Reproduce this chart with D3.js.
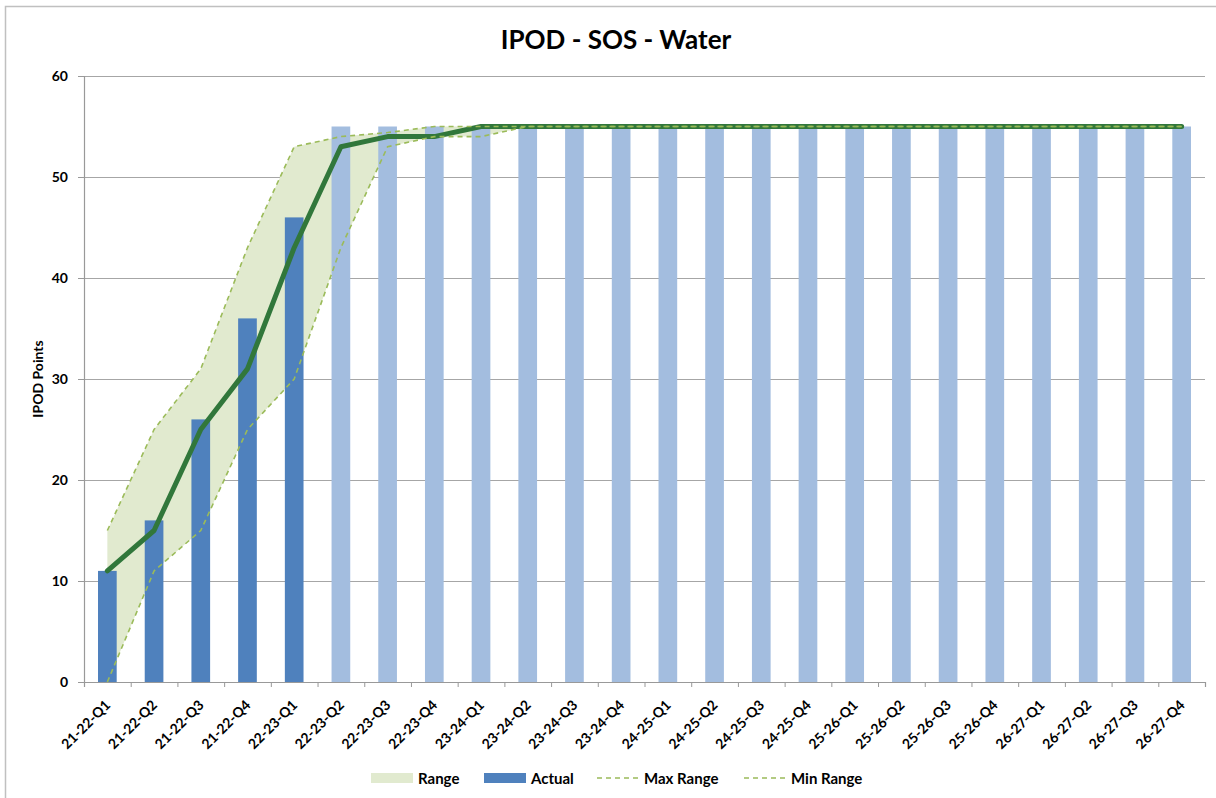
<!DOCTYPE html>
<html>
<head>
<meta charset="utf-8">
<script src="https://cdn.jsdelivr.net/npm/d3@7/dist/d3.min.js"></script>
<style>
  html, body { margin: 0; padding: 0; background: #fff; }
  svg { display: block; }
  text { font-family: Lato, "Liberation Sans", sans-serif; font-weight: bold; fill: #000; }
</style>
</head>
<body>
<svg id="chart" width="1216" height="798"></svg>
<script>
const quarters = [
  "21-22-Q1","21-22-Q2","21-22-Q3","21-22-Q4",
  "22-23-Q1","22-23-Q2","22-23-Q3","22-23-Q4",
  "23-24-Q1","23-24-Q2","23-24-Q3","23-24-Q4",
  "24-25-Q1","24-25-Q2","24-25-Q3","24-25-Q4",
  "25-26-Q1","25-26-Q2","25-26-Q3","25-26-Q4",
  "26-27-Q1","26-27-Q2","26-27-Q3","26-27-Q4"
];
const actual   = [11,16,26,36,46,null,null,null,null,null,null,null,null,null,null,null,null,null,null,null,null,null,null,null];
const planned  = [null,null,null,null,null,55,55,55,55,55,55,55,55,55,55,55,55,55,55,55,55,55,55,55];
const trajectory = [11,15,25,31,43,53,54,54,55,55,55,55,55,55,55,55,55,55,55,55,55,55,55,55];
const maxRange = [15,25,31,43,53,54,54.4,55,55,55,55,55,55,55,55,55,55,55,55,55,55,55,55,55];
const minRange = [0,11,15,25,30,43,53,54,54,55,55,55,55,55,55,55,55,55,55,55,55,55,55,55];
const yTicks = [0,10,20,30,40,50,60];
const title = "IPOD - SOS - Water";
const yTitle = "IPOD Points";
const legendItems = ["Range","Actual","Max Range","Min Range"];

const svg = d3.select("#chart");
const pLeft = 84, pRight = 1205, pTop = 76, pBottom = 682;

// frame
svg.append("rect").attr("x",5.5).attr("y",6.5).attr("width",1300).attr("height",1000)
  .attr("fill","none").attr("stroke","#c0c0c0").attr("stroke-width",1.5);

const x = d3.scaleBand().domain(quarters).range([pLeft,pRight]).paddingInner(0.6).paddingOuter(0.3);
const xEdge = d3.scaleLinear().domain([0,quarters.length]).range([pLeft,pRight]);
const y = d3.scaleLinear().domain([0,60]).range([pBottom,pTop]);
const cx = q => x(q) + x.bandwidth()/2;

// gridlines
svg.append("g").attr("transform",`translate(${pLeft},0)`)
  .call(d3.axisLeft(y).tickValues(yTicks.slice(1)).tickSize(-(pRight-pLeft)).tickFormat(""))
  .call(g => g.select(".domain").remove())
  .call(g => g.selectAll("line").attr("stroke","#a6a6a6").attr("stroke-width",1));

// range area
const area = d3.area()
  .x((d,i) => cx(quarters[i]))
  .y0((d,i) => y(minRange[i]))
  .y1((d,i) => y(maxRange[i]));
svg.append("path").datum(quarters).attr("d",area).attr("fill","#e1eacf");

// bars
svg.append("g").selectAll("rect").data(quarters.map((q,i)=>({q,v:planned[i]})).filter(d=>d.v!=null))
  .join("rect").attr("x",d=>x(d.q)).attr("width",x.bandwidth())
  .attr("y",d=>y(d.v)).attr("height",d=>y(0)-y(d.v)).attr("fill","#a3bddf");
svg.append("g").selectAll("rect").data(quarters.map((q,i)=>({q,v:actual[i]})).filter(d=>d.v!=null))
  .join("rect").attr("x",d=>x(d.q)).attr("width",x.bandwidth())
  .attr("y",d=>y(d.v)).attr("height",d=>y(0)-y(d.v)).attr("fill","#4f81bd");

// trajectory line
const line = arr => d3.line().x((d,i)=>cx(quarters[i])).y(d=>y(d))(arr);
svg.append("path").attr("d",line(trajectory)).attr("fill","none")
  .attr("stroke","#31773b").attr("stroke-width",5).attr("stroke-linejoin","round").attr("stroke-linecap","round");
[maxRange,minRange].forEach(arr=>{
  svg.append("path").attr("d",line(arr)).attr("fill","none")
    .attr("stroke","#9bbb59").attr("stroke-width",1.6).attr("stroke-dasharray","5,4");
});

// y axis
svg.append("g").attr("transform",`translate(${pLeft},0)`)
  .call(d3.axisLeft(y).tickValues(yTicks).tickSize(6).tickPadding(10))
  .call(g => g.select(".domain").attr("stroke","#999").attr("stroke-width",1.2))
  .call(g => g.selectAll("line").attr("stroke","#999"))
  .call(g => g.selectAll("text").attr("font-size",14).attr("font-family","Lato").attr("font-weight","bold"));

// x axis: boundary ticks
svg.append("g").attr("transform",`translate(0,${pBottom})`)
  .call(d3.axisBottom(xEdge).tickValues(d3.range(quarters.length+1)).tickSize(5).tickFormat(""))
  .call(g => g.select(".domain").attr("stroke","#999").attr("stroke-width",1.2))
  .call(g => g.selectAll("line").attr("stroke","#999"));
// x labels
svg.append("g").attr("transform",`translate(0,${pBottom})`)
  .call(d3.axisBottom(x).tickSize(0))
  .call(g => g.select(".domain").remove())
  .call(g => g.selectAll("text").attr("x",0).attr("y",0).attr("dy",0)
     .attr("text-anchor","end").attr("transform","translate(4,24) rotate(-45)")
     .attr("font-size",14).attr("font-family","Lato").attr("font-weight","bold"));

// titles
svg.append("text").attr("x",616).attr("y",49).attr("text-anchor","middle")
  .attr("font-size",26).text(title);
svg.append("text").attr("transform",`translate(43,${(pTop+pBottom)/2}) rotate(-90)`)
  .attr("text-anchor","middle").attr("font-size",14).text(yTitle);

// legend
const lg = svg.append("g");
const lx = [371,484,597,744];
legendItems.forEach((name,i)=>{
  const g = lg.append("g").attr("transform",`translate(${lx[i]},778)`);
  if (i===0) g.append("rect").attr("x",0).attr("y",-5).attr("width",42).attr("height",10).attr("fill","#e1eacf");
  else if (i===1) g.append("rect").attr("x",0).attr("y",-5).attr("width",42).attr("height",10).attr("fill","#4f81bd");
  else g.append("line").attr("x1",0).attr("x2",42).attr("y1",0).attr("y2",0)
        .attr("stroke","#9bbb59").attr("stroke-width",1.6).attr("stroke-dasharray","5,4");
  g.append("text").attr("x",47).attr("y",5.5).attr("font-size",15).text(name);
});
</script>
</body>
</html>
